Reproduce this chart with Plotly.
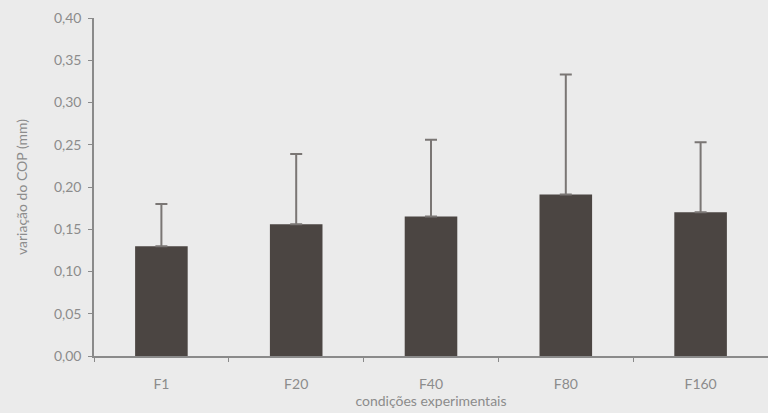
import plotly.graph_objects as go

categories = ["F1", "F20", "F40", "F80", "F160"]
means = [0.130, 0.156, 0.165, 0.191, 0.170]
sd_upper = [0.050, 0.083, 0.091, 0.142, 0.083]
y_ticks = [0.00, 0.05, 0.10, 0.15, 0.20, 0.25, 0.30, 0.35, 0.40]
y_tick_labels = ["0,00", "0,05", "0,10", "0,15", "0,20", "0,25", "0,30", "0,35", "0,40"]

fig = go.Figure()
fig.add_trace(go.Bar(
    x=categories,
    y=means,
    marker=dict(color="#4b4542", line=dict(width=0)),
    error_y=dict(type="data", symmetric=False, array=sd_upper,
                 arrayminus=[0] * len(sd_upper),
                 color="#7a7674", thickness=2, width=6),
    showlegend=False,
))

fig.update_layout(
    width=768, height=413,
    margin=dict(l=94, r=0, t=18, b=57),
    paper_bgcolor="#ebebeb",
    plot_bgcolor="#ebebeb",
    bargap=0.61,
    font=dict(family="Lato, Open Sans, sans-serif", color="#8c8c8c", size=14),
    xaxis=dict(
        type="category",
        range=[-0.5, 4.5],
        showline=True, linecolor="#8a8a8a", linewidth=1.5,
        ticks="outside", ticklen=4, tickcolor="#8a8a8a",
        tickson="boundaries",
        ticklabelstandoff=14,
        showgrid=False, zeroline=False,
        tickfont=dict(size=14, color="#8c8c8c"),
        title=dict(text="condições experimentais", font=dict(size=14, color="#8c8c8c"), standoff=5),
    ),
    yaxis=dict(
        range=[0, 0.40],
        tickvals=y_ticks, ticktext=y_tick_labels,
        showline=True, linecolor="#8a8a8a", linewidth=1.5,
        ticks="outside", ticklen=4, tickcolor="#8a8a8a",
        ticklabelstandoff=4,
        showgrid=False, zeroline=False,
        tickfont=dict(size=14, color="#8c8c8c"),
        title=dict(text="variação do COP (mm)", font=dict(size=14, color="#8c8c8c"), standoff=23),
    ),
)

fig.write_html(
    "out.html",
    config={"displayModeBar": False},
    post_script="document.body.style.margin='0';document.body.style.background='#ebebeb';",
)
